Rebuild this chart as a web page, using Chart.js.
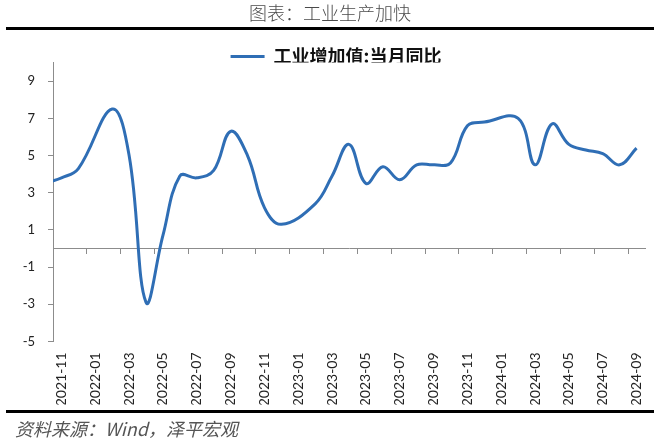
<!DOCTYPE html>
<html>
<head>
<meta charset="utf-8">
<script src="https://cdn.jsdelivr.net/npm/chart.js@4.4.1/dist/chart.umd.min.js"></script>
<style>
  html, body { margin: 0; padding: 0; background: #fff; }
</style>
</head>
<body>
<canvas id="myChart" width="660" height="440"></canvas>
<script>
// 月份（2021-10 只用来让曲线从坐标轴左边进入）
const months = [
  '2021-10', '2021-11', '2021-12',
  '2022-01', '2022-02', '2022-03', '2022-04', '2022-05', '2022-06',
  '2022-07', '2022-08', '2022-09', '2022-10', '2022-11', '2022-12',
  '2023-01', '2023-02', '2023-03', '2023-04', '2023-05', '2023-06',
  '2023-07', '2023-08', '2023-09', '2023-10', '2023-11', '2023-12',
  '2024-01', '2024-02', '2024-03', '2024-04', '2024-05', '2024-06',
  '2024-07', '2024-08', '2024-09'
]
// 工业增加值:当月同比（1月无单月数据）
const ivaYoY = [
  3.5, 3.8, 4.3,
  null, 7.5, 5.0, -2.9, 0.7, 3.9,
  3.8, 4.2, 6.3, 5.0, 2.2, 1.3,
  null, 2.4, 3.9, 5.6, 3.5, 4.4,
  3.7, 4.5, 4.5, 4.6, 6.6, 6.8,
  null, 7.0, 4.5, 6.7, 5.6, 5.3,
  5.1, 4.5, 5.4
]
const firstMonth = '2021-11'
const yTicks = [-5, -3, -1, 1, 3, 5, 7, 9]

const axisGray = '#8c8c8c'
const lineBlue = '#2f6eb5'
const cjk = "'Noto Sans CJK SC', sans-serif"

const rules = {
  id: 'rules',
  afterLayout(chart) {
    chart.legend.left += 6
    chart.legend.right += 6
  },
  afterDraw(chart) {
    const c = chart.ctx
    c.save()
    c.fillStyle = '#000'
    c.fillRect(6, 27, chart.width - 12, 3)
    c.fillRect(6, 410, chart.width - 12, 3)
    c.restore()
  }
}

const ctx = document.querySelector('#myChart')
new Chart(ctx, {
  type: 'line',
  data: {
    labels: months,
    datasets: [{
      label: '工业增加值:当月同比',
      data: ivaYoY,
      borderColor: lineBlue,
      backgroundColor: lineBlue,
      borderWidth: 3,
      pointRadius: 0,
      tension: 0.4,
      spanGaps: true,
      fill: false
    }]
  },
  options: {
    responsive: false,
    animation: false,
    layout: { padding: { left: 15, right: 15, top: 0, bottom: 0 } },
    plugins: {
      title: {
        display: true,
        text: '图表：工业生产加快',
        color: '#4a4a4a',
        font: { family: cjk, size: 18, weight: '300' },
        padding: { top: 2, bottom: 16 }
      },
      subtitle: {
        display: true,
        position: 'bottom',
        align: 'start',
        text: '资料来源：Wind，泽平宏观',
        color: '#555',
        font: { family: cjk, size: 18, style: 'italic' },
        padding: { top: 14, bottom: 0 }
      },
      legend: {
        display: true,
        maxHeight: 23,
        labels: {
          usePointStyle: true,
          pointStyle: 'line',
          pointStyleWidth: 34,
          padding: 8,
          color: '#111',
          font: { family: cjk, size: 18, weight: 'bold' }
        }
      },
      tooltip: { enabled: false }
    },
    scales: {
      x: {
        type: 'category',
        min: firstMonth,
        offset: true,
        grid: { display: false },
        border: { display: false },
        ticks: {
          autoSkip: false,
          minRotation: 90,
          maxRotation: 90,
          padding: 3,
          color: '#222',
          font: { family: 'Lato', size: 14 },
          callback: function (v, i) { return i % 2 === 0 ? this.getLabelForValue(v) : '' }
        },
        afterFit(s) { s.height = 63 }
      },
      x2: {
        type: 'category',
        min: firstMonth,
        offset: true,
        position: { y: 0 },
        border: { display: true, color: axisGray, width: 1 },
        grid: {
          drawOnChartArea: false,
          offset: true,
          tickLength: 5,
          tickColor: (c) => c.index % 2 === 0 ? axisGray : 'transparent'
        },
        ticks: { display: false, autoSkip: false }
      },
      y: {
        min: -5,
        max: 10,
        afterBuildTicks(s) { s.ticks = yTicks.map(v => ({ value: v })) },
        afterFit(s) { s.width = 38 },
        border: { display: true, color: axisGray, width: 1 },
        grid: { drawOnChartArea: false, tickLength: 5, tickColor: axisGray },
        ticks: {
          padding: 13,
          color: '#222',
          font: { family: 'Lato', size: 13 }
        }
      }
    }
  },
  plugins: [rules]
})
</script>
</body>
</html>
